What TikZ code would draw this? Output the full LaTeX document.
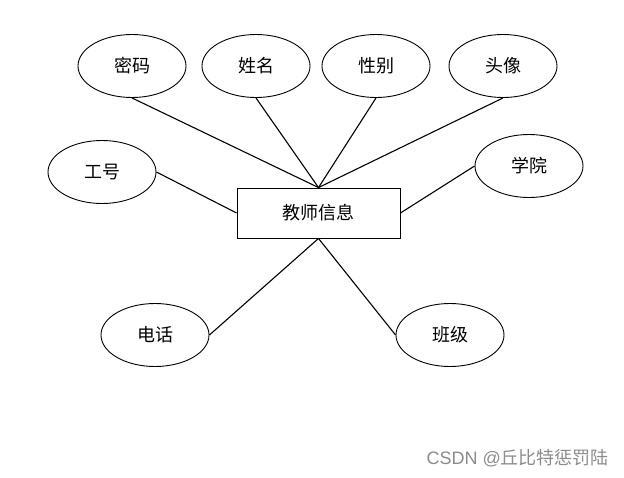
\documentclass[tikz,border=0pt]{standalone}
\usepackage{fontspec}
\setmainfont{Liberation Sans}
\newfontfamily\cjk{Noto Sans CJK SC}
\usetikzlibrary{shapes.geometric}
\begin{document}
\begin{tikzpicture}[x=1pt,y=-1pt,
  attr/.style={draw=black, line width=0.9pt, ellipse, minimum width=108pt, minimum height=63pt, inner sep=0pt, font=\cjk\fontsize{18}{20}\selectfont},
  ent/.style={draw=black, line width=0.9pt, rectangle, minimum width=163pt, minimum height=50pt, inner sep=0pt, font=\cjk\fontsize{18}{20}\selectfont},
  link/.style={draw=black, line width=1.1pt}]
\useasboundingbox (0,0) rectangle (624,477);
\fill[white] (0,0) rectangle (624,477);
\node[ent] (e) at (318.5,213) {教师信息};
\node[attr] (mima) at (132,66) {密码};
\node[attr] (xingming) at (256,66) {姓名};
\node[attr] (xingbie) at (376,66) {性别};
\node[attr] (touxiang) at (503,66) {头像};
\node[attr] (gonghao) at (102,172) {工号};
\node[attr] (xueyuan) at (529,166) {学院};
\node[attr] (dianhua) at (155,335) {电话};
\node[attr] (banji) at (450,335) {班级};
\draw[link] (mima.south) -- (e.north);
\draw[link] (xingming.south) -- (e.north);
\draw[link] (xingbie.south) -- (e.north);
\draw[link] (touxiang.south) -- (e.north);
\draw[link] (gonghao.east) -- (e.west);
\draw[link] (xueyuan.west) -- (e.east);
\draw[link] (dianhua.east) -- (e.south);
\draw[link] (banji.west) -- (e.south);
\node[anchor=east, text=black!45, font=\fontsize{18}{20}\selectfont, inner sep=0pt] (wm) at (609,458) {CSDN @{\cjk 丘比特惩罚陆}};
\end{tikzpicture}
\end{document}
